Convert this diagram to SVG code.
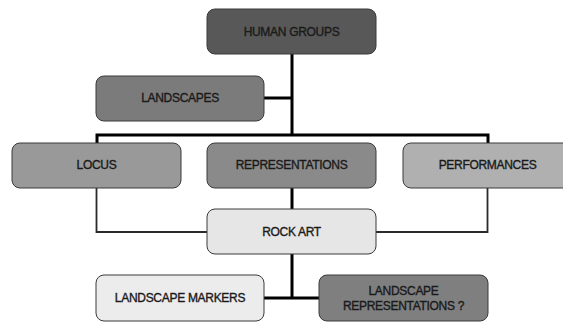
<svg xmlns="http://www.w3.org/2000/svg" width="563" height="325" viewBox="0 0 563 325">
<style>
.box{stroke:#3a3a3a;stroke-width:1}
.t{font-family:"Liberation Sans",Arial,sans-serif;font-size:12px;fill:#1a1a1a;stroke:#1a1a1a;stroke-width:0.35;text-anchor:middle;letter-spacing:-0.3px}
.thick{stroke:#000;stroke-width:3;fill:none}
.thin{stroke:#2a2a2a;stroke-width:1.8;fill:none}
</style>
<rect width="563" height="325" fill="#fff"/>
<g id="connectors">
<path class="thick" d="M292 54V135M264 98H292M97 145V135H488V145M292 188V209M292 254V298M264 298H319"/>
<path class="thin" d="M96.5 188V232H207M487.5 188V232H376"/>
</g>
<g id="human-groups"><rect class="box" x="207" y="9" width="169" height="45" rx="8" fill="#585858"/><text class="t" x="291.5" y="36">HUMAN GROUPS</text></g>
<g id="landscapes"><rect class="box" x="96" y="76" width="168" height="45" rx="8" fill="#7b7b7b"/><text class="t" x="180" y="102">LANDSCAPES</text></g>
<g id="locus"><rect class="box" x="12" y="143" width="169" height="45" rx="8" fill="#999"/><text class="t" x="96.5" y="169">LOCUS</text></g>
<g id="representations"><rect class="box" x="207" y="143" width="169" height="45" rx="8" fill="#8a8a8a"/><text class="t" x="291.5" y="169">REPRESENTATIONS</text></g>
<g id="performances"><rect class="box" x="403" y="143" width="169" height="45" rx="8" fill="#b0b0b0"/><text class="t" x="487.5" y="169">PERFORMANCES</text></g>
<g id="rock-art"><rect class="box" x="207" y="209" width="169" height="45" rx="8" fill="#e6e6e6"/><text class="t" x="291.5" y="236">ROCK ART</text></g>
<g id="landscape-markers"><rect class="box" x="96" y="275" width="168" height="46" rx="8" fill="#ececec"/><text class="t" x="180" y="302">LANDSCAPE MARKERS</text></g>
<g id="landscape-representations"><rect class="box" x="319" y="275" width="169" height="46" rx="8" fill="#7f7f7f"/><text class="t" x="403.5" y="295">LANDSCAPE</text><text class="t" x="403.5" y="310">REPRESENTATIONS ?</text></g>
</svg>
